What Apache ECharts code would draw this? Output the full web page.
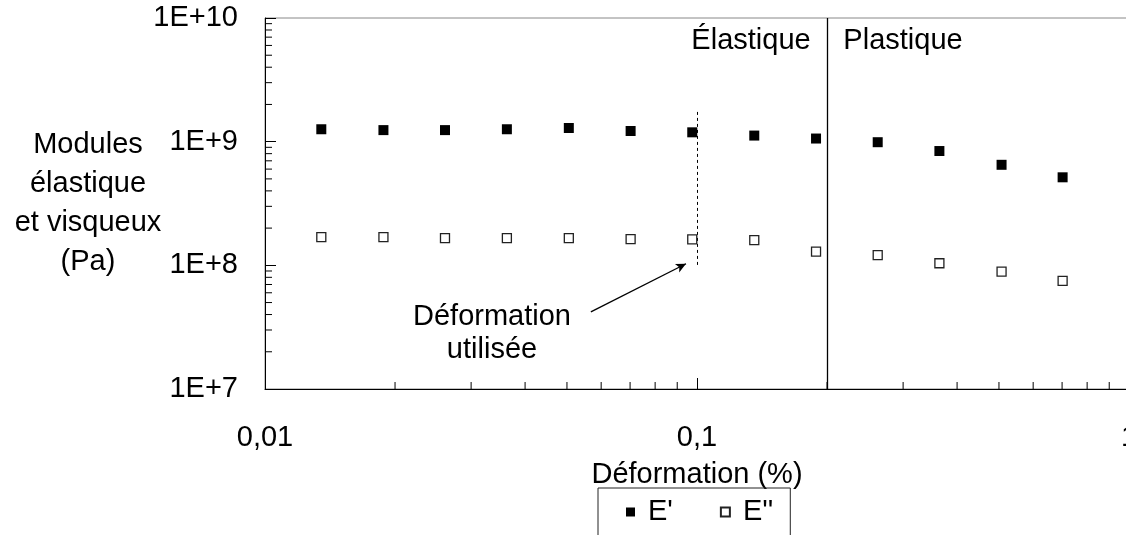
<!DOCTYPE html>
<html>
<head>
<meta charset="utf-8">
<script src="https://cdn.jsdelivr.net/npm/echarts@6/dist/echarts.min.js"></script>
<style>
  html, body { margin: 0; padding: 0; overflow: hidden; background: #fff; }
  #chart { width: 1140px; height: 535px; }
</style>
</head>
<body>
<div id="chart"></div>
<script>
// Strain sweep: storage (E') and loss (E'') moduli versus strain
const strain = [0.0135, 0.0188, 0.0261, 0.0363, 0.0505, 0.0702, 0.0975, 0.1357, 0.1886, 0.262, 0.364, 0.507, 0.702];
const storageModulus = [1.26e9, 1.24e9, 1.24e9, 1.26e9, 1.29e9, 1.22e9, 1.19e9, 1.12e9, 1.06e9, 9.9e8, 8.4e8, 6.5e8, 5.15e8];
const lossModulus = [1.69e8, 1.69e8, 1.66e8, 1.66e8, 1.66e8, 1.63e8, 1.62e8, 1.6e8, 1.29e8, 1.21e8, 1.04e8, 8.9e7, 7.5e7];

const seriesNames = ["E'", "E''"];
const xTickLabels = { '0.01': '0,01', '0.1': '0,1', '1': '1' };
const xDecades = [0.01, 0.1];
const yDecades = [1e7, 1e8, 1e9];
const minorMultipliers = [2, 3, 4, 5, 6, 7, 8, 9];

// Strain used for the tests and the elastic / plastic boundary
const usedStrain = 0.1;
const usedStrainTop = 1.74e9;
const usedStrainBottom = 1e8;
const yieldStrain = 0.2;
const arrowFrom = [0.0568, 4.2e7];
const arrowTo = [0.0943, 1.03e8];

const FONT = "'Liberation Sans', Arial, sans-serif";
const FS = 29;

const xMinor = [];
xDecades.forEach(d => minorMultipliers.forEach(m => xMinor.push([d * m, 1e7])));
const yMinor = [];
yDecades.forEach(d => minorMultipliers.forEach(m => yMinor.push([0.01, d * m])));

const chart = echarts.init(document.getElementById('chart'), null, { renderer: 'canvas' });

function minorTick(dir) {
  return function (params, api) {
    const p = api.coord([api.value(0), api.value(1)]);
    const len = 7;
    const end = dir === 'x' ? [p[0], p[1] - len] : [p[0] + len, p[1]];
    return {
      type: 'line',
      shape: { x1: p[0], y1: p[1], x2: end[0], y2: end[1] },
      style: { stroke: '#000', lineWidth: 1 }
    };
  };
}

function label(text, x, y) {
  return { type: 'text', x: x, y: y, silent: true,
    style: { text: text, font: FS + 'px ' + FONT, fill: '#000', align: 'center', verticalAlign: 'middle' } };
}

chart.setOption({
  animation: false,
  backgroundColor: '#fff',
  textStyle: { fontFamily: FONT, color: '#000' },
  grid: {
    left: 265, top: 18, width: 864, height: 371,
    containLabel: false, outerBoundsMode: 'none',
    show: true, borderColor: '#888', borderWidth: 1, backgroundColor: 'transparent'
  },
  legend: {
    data: seriesNames,
    left: 598, top: 488,
    orient: 'horizontal',
    padding: [9, 17, 30, 28],
    itemGap: 47,
    itemWidth: 9, itemHeight: 9,
    borderColor: '#222', borderWidth: 1,
    textStyle: { fontFamily: FONT, fontSize: FS, color: '#000', padding: [0, 0, 0, 8], lineHeight: 30 },
    selectedMode: false
  },
  xAxis: {
    type: 'log', logBase: 10, min: 0.01, max: 1,
    name: 'Déformation (%)',
    nameLocation: 'middle', nameGap: 86, nameMoveOverlap: false,
    nameTextStyle: { fontFamily: FONT, fontSize: FS, color: '#000', verticalAlign: 'middle' },
    axisLine: { show: true, lineStyle: { color: '#000', width: 1 } },
    axisTick: { show: true, inside: true, length: 11, lineStyle: { color: '#000' } },
    axisLabel: {
      fontFamily: FONT, fontSize: FS, color: '#000', margin: 34,
      formatter: v => xTickLabels[String(+v.toPrecision(3))] || String(v)
    },
    splitLine: { show: false }
  },
  yAxis: {
    type: 'log', logBase: 10, min: 1e7, max: 1e10,
    name: 'Modules\nélastique\net visqueux\n(Pa)',
    nameLocation: 'middle', nameGap: 177, nameRotate: 0, nameMoveOverlap: false,
    nameTextStyle: { fontFamily: FONT, fontSize: FS, color: '#000', align: 'center', verticalAlign: 'middle', lineHeight: 39, padding: [6, 0, 0, 0] },
    axisLine: { show: true, lineStyle: { color: '#000', width: 1 } },
    axisTick: { show: true, inside: true, length: 11, lineStyle: { color: '#000' } },
    axisLabel: {
      fontFamily: FONT, fontSize: FS, color: '#000', margin: 27,
      formatter: v => '1E+' + Math.round(Math.log10(v))
    },
    splitLine: { show: false }
  },
  graphic: [
    label('Élastique', 751, 41),
    label('Plastique', 903, 41),
    label('Déformation', 492, 317),
    label('utilisée', 492, 350)
  ],
  series: [
    {
      name: seriesNames[0],
      type: 'scatter',
      symbol: 'rect', symbolSize: 10,
      itemStyle: { color: '#000', opacity: 1 },
      data: strain.map((x, i) => [x, storageModulus[i]]),
      z: 5,
      markLine: {
        silent: true,
        symbol: ['none', 'none'],
        label: { show: false },
        animation: false,
        data: [
          [
            { coord: [yieldStrain, 1e10], lineStyle: { color: '#000', width: 1.3, type: 'solid' } },
            { coord: [yieldStrain, 1e7] }
          ],
          [
            { coord: [usedStrain, usedStrainTop], lineStyle: { color: '#000', width: 1, type: [3, 3] } },
            { coord: [usedStrain, usedStrainBottom] }
          ],
          [
            { coord: arrowFrom, symbol: 'none', lineStyle: { color: '#000', width: 1.3, type: 'solid' } },
            { coord: arrowTo, symbol: 'arrow', symbolSize: [7, 10] }
          ]
        ]
      }
    },
    {
      name: seriesNames[1],
      type: 'scatter',
      symbol: 'rect', symbolSize: 9,
      itemStyle: { color: '#fff', borderColor: '#222', borderWidth: 1.3, opacity: 1 },
      data: strain.map((x, i) => [x, lossModulus[i]]),
      z: 5
    },
    {
      type: 'custom', silent: true, clip: false,
      renderItem: minorTick('x'),
      data: xMinor, z: 3
    },
    {
      type: 'custom', silent: true, clip: false,
      renderItem: minorTick('y'),
      data: yMinor, z: 3
    }
  ]
});
</script>
</body>
</html>
